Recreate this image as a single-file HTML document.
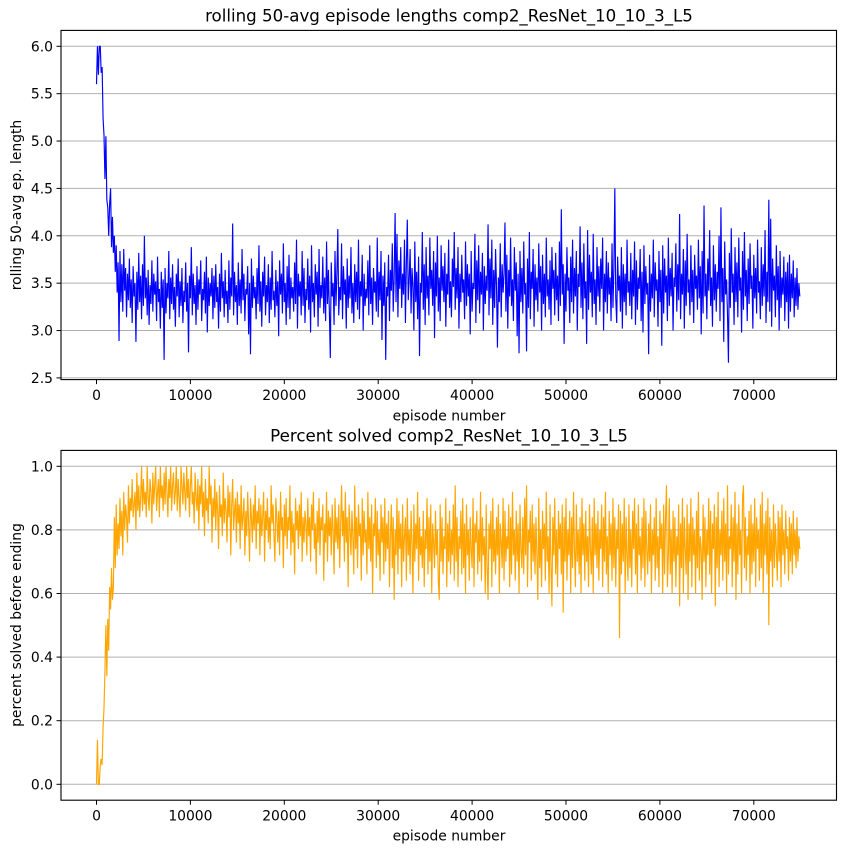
<!DOCTYPE html>
<html>
<head>
<meta charset="utf-8">
<title>comp2_ResNet_10_10_3_L5 training curves</title>
<style>
html,body{margin:0;padding:0;background:#fff;width:846px;height:853px;overflow:hidden}
svg{display:block;font-family:"DejaVu Sans","Liberation Sans",sans-serif;fill:#000}
</style>
</head>
<body>
<svg id="chart" xmlns="http://www.w3.org/2000/svg" width="846" height="853" viewBox="0 0 846 853">
<text x="449" y="21.5" font-size="16.67" text-anchor="middle">rolling 50-avg episode lengths comp2_ResNet_10_10_3_L5</text>
<text x="449" y="420.5" font-size="13.89" text-anchor="middle">episode number</text>
<text transform="translate(21,205) rotate(-90)" font-size="13.89" text-anchor="middle">rolling 50-avg ep. length</text>
<text x="449" y="441.5" font-size="16.67" text-anchor="middle">Percent solved comp2_ResNet_10_10_3_L5</text>
<text x="449" y="840.5" font-size="13.89" text-anchor="middle">episode number</text>
<text transform="translate(21,625) rotate(-90)" font-size="13.89" text-anchor="middle">percent solved before ending</text>
</svg>
<script>
const episodeStep = 100;
const xTickLabels = [0, 10000, 20000, 30000, 40000, 50000, 60000, 70000];
const lengthTickLabels = [2.5, 3.0, 3.5, 4.0, 4.5, 5.0, 5.5, 6.0];
const solvedTickLabels = [0.0, 0.2, 0.4, 0.6, 0.8, 1.0];
const episodeLengths = [
5.6,6.0,5.7,6.0,6.0,5.72,5.78,5.24,5.06,4.6,5.05,4.38,4.3,4.0,4.34,4.5,3.88,4.2,3.82,4.0,3.62,3.9,3.4,3.72,2.89,
3.84,3.3,3.7,3.2,3.86,3.42,3.66,3.14,3.6,3.32,3.76,3.24,3.54,3.08,3.68,3.36,3.5,2.88,3.62,3.22,3.82,3.3,3.58,3.12,3.7,
3.26,4.0,3.34,3.56,3.16,3.64,3.06,3.48,3.28,3.74,3.2,3.6,3.38,3.52,3.1,3.78,3.3,3.44,3.02,3.62,3.24,3.54,2.69,3.66,3.18,
3.5,3.34,3.84,3.12,3.56,3.28,3.7,3.22,3.46,3.04,3.6,3.36,3.76,3.14,3.52,3.26,3.66,3.08,3.42,3.3,3.72,3.2,3.5,2.77,3.58,
3.34,3.88,3.16,3.6,3.28,3.48,3.06,3.68,3.22,3.54,3.38,3.74,3.1,3.44,3.32,3.62,3.18,3.78,2.98,3.56,3.26,3.5,3.36,3.66,3.12,
3.58,3.24,3.7,3.3,3.46,3.02,3.6,3.2,3.82,3.34,3.52,3.14,3.64,3.28,3.42,3.08,3.74,3.22,3.56,3.36,4.13,3.16,3.62,3.3,3.48,
3.06,3.72,3.26,3.54,3.18,3.86,3.32,3.6,3.1,3.44,3.38,3.68,2.96,3.5,2.75,3.76,3.24,3.58,3.34,3.46,3.12,3.66,3.28,3.9,3.2,
3.52,3.04,3.62,3.36,3.78,3.16,3.48,3.3,3.7,3.08,3.56,3.22,3.84,3.32,3.42,3.14,3.64,3.26,3.52,2.94,3.74,3.38,3.6,3.18,3.92,
3.3,3.5,3.06,3.68,3.24,3.8,3.12,3.56,3.34,3.46,3.2,3.72,3.28,3.96,3.02,3.6,3.36,3.52,3.16,3.84,3.26,3.66,3.08,3.44,3.32,
3.76,3.22,3.58,2.98,3.9,3.3,3.5,3.14,3.7,3.38,3.62,3.04,3.86,3.24,3.48,3.34,3.78,3.18,3.56,3.1,3.94,3.28,3.64,3.2,2.71,
3.72,3.36,3.5,3.06,3.84,3.26,3.6,4.07,3.16,3.46,3.32,3.92,3.12,3.68,3.38,3.54,3.02,3.76,3.24,3.58,3.34,3.88,3.18,3.5,3.08,
3.7,3.3,3.62,3.22,3.96,3.12,3.52,3.36,3.8,3.0,3.6,3.26,3.44,3.34,3.74,3.16,3.9,3.28,3.56,3.06,3.66,3.4,3.52,3.2,3.98,
3.14,3.62,3.32,3.84,2.9,3.58,3.26,3.72,2.69,3.46,3.36,3.8,3.1,3.64,3.42,3.92,3.2,3.56,4.24,3.3,4.02,3.14,3.74,3.44,3.88,
3.24,3.6,3.38,3.96,3.08,3.7,4.17,3.32,3.54,3.86,3.18,3.66,3.46,3.0,3.94,3.3,3.62,3.12,3.78,2.73,3.5,3.4,4.04,3.22,3.7,
3.06,3.88,3.34,3.58,3.16,3.98,3.44,3.64,3.26,3.84,2.92,3.72,3.36,4.0,3.2,3.56,3.1,3.9,3.42,3.68,3.3,3.82,3.04,3.6,3.38,
3.96,3.24,3.52,3.14,3.76,3.46,4.04,3.22,3.66,3.34,3.88,3.02,3.6,3.3,3.8,3.4,3.54,3.12,3.94,3.26,3.7,3.36,3.6,2.96,3.84,
3.2,3.5,3.44,4.02,3.08,3.74,3.32,3.9,3.18,3.62,3.38,3.82,3.0,3.68,3.28,3.58,3.42,4.12,3.16,3.76,3.34,3.96,3.06,3.64,3.24,
3.86,3.46,2.82,3.56,3.3,3.92,3.14,3.7,3.4,3.6,4.14,3.2,3.8,3.02,3.64,3.36,3.98,3.26,3.54,3.1,3.88,3.42,3.72,2.94,3.6,
2.76,3.84,3.3,3.66,3.18,3.94,3.38,3.5,2.78,3.76,3.24,4.04,3.12,3.62,3.44,3.86,3.04,3.7,3.32,3.56,3.2,3.92,3.4,3.68,3.0,
3.8,3.28,3.6,3.14,3.98,3.36,3.54,3.22,3.74,3.06,3.88,3.44,3.64,3.16,3.82,3.32,3.58,3.1,3.94,3.26,4.28,3.38,3.7,2.86,3.6,
3.2,3.88,3.42,3.56,3.08,3.78,3.3,3.96,3.18,3.66,3.36,3.84,3.0,3.6,3.46,4.1,3.24,3.72,3.12,3.92,3.34,3.52,2.86,4.06,3.22,
3.8,3.4,3.62,3.14,4.02,3.28,3.54,3.06,3.88,3.36,3.68,3.2,3.76,3.44,3.98,3.0,3.6,3.3,3.84,3.18,3.72,3.38,3.56,3.1,3.92,
3.24,3.66,4.5,3.34,3.08,3.78,3.42,3.58,3.2,3.88,3.02,3.7,3.3,3.6,3.16,3.96,3.4,3.52,3.26,3.82,3.12,3.64,3.36,3.94,3.06,
3.74,3.22,3.56,3.44,3.86,3.1,3.62,2.98,3.9,3.28,3.68,3.38,3.5,2.75,3.8,3.2,3.6,3.34,3.96,3.14,3.72,3.42,3.54,3.04,3.84,
3.3,3.64,2.84,3.9,3.18,3.76,3.4,3.58,3.1,3.98,3.26,3.66,3.36,3.82,3.0,3.56,3.46,3.92,3.2,3.7,3.32,4.23,3.12,3.6,3.38,
3.86,3.02,3.74,3.26,4.02,3.4,3.54,3.16,3.9,3.3,3.64,3.08,3.8,3.44,3.58,3.22,3.96,3.34,3.68,2.96,3.84,3.18,4.32,3.36,3.6,
3.12,3.76,3.42,4.06,3.26,3.56,3.04,3.9,3.32,3.7,3.2,3.62,3.44,4.0,3.1,4.3,3.3,3.66,2.88,3.94,3.38,3.54,3.16,2.66,3.82,
3.24,4.08,3.4,3.6,3.06,3.88,3.3,3.72,3.14,3.98,3.42,3.56,2.98,3.84,3.22,4.04,3.36,3.64,3.1,3.76,3.28,3.92,3.44,3.58,3.02,
3.8,3.34,3.66,3.18,3.96,3.4,3.52,3.12,3.88,3.26,3.7,3.36,4.06,3.08,3.62,3.3,4.38,3.2,4.18,3.04,3.76,3.42,3.58,3.14,3.9,
3.32,3.68,3.0,3.84,3.24,3.56,3.38,3.78,3.1,3.62,3.3,3.72,3.02,3.8,3.2,3.6,3.34,3.74,3.14,3.56,3.26,3.66,3.22,3.5,3.36
];
const percentSolved = [
0,.14,0,0,.06,.08,.06,.18,.24,.36,.5,.34,.52,.42,.62,.55,.68,.58,.62,.84,.68,.88,.72,.82,.74,
.9,.78,.86,.72,.92,.8,.88,.84,.76,.94,.82,.9,.86,.96,.84,.88,.92,.8,.98,.86,.94,.84,.9,1.0,.86,
.96,.88,.92,.84,1.0,.9,.86,.96,.92,.82,.98,.88,.94,1.0,.86,.92,.96,.84,1.0,.9,.94,.86,.98,.88,1.0,
.92,.84,.96,.9,1.0,.86,.94,.98,.88,.92,1.0,.86,.96,.9,.84,1.0,.94,.88,.98,.92,.86,1.0,.9,.96,.84,
.94,1.0,.88,.92,.82,.98,.9,.86,.96,.8,.94,.88,1.0,.84,.92,.78,.96,.86,.9,.82,1.0,.88,.94,.76,.9,
.84,.96,.8,.92,.86,.74,.94,.84,.88,.78,.98,.82,.9,.86,.76,.94,.84,.92,.72,.88,.96,.8,.86,.9,.76,
.92,.82,.88,.74,.94,.8,.84,.9,.72,.86,.78,.92,.82,.7,.9,.84,.76,.88,.8,.94,.74,.86,.82,.9,.72,
.88,.78,.84,.92,.7,.86,.8,.9,.76,.84,.74,.94,.82,.88,.78,.7,.9,.84,.76,.86,.72,.92,.8,.84,.68,
.88,.78,.9,.74,.84,.8,.94,.72,.86,.76,.82,.66,.9,.8,.86,.74,.88,.78,.92,.7,.84,.76,.86,.82,.72,
.9,.78,.84,.7,.88,.8,.92,.74,.82,.66,.86,.76,.9,.72,.84,.8,.88,.64,.82,.76,.92,.7,.86,.78,.84,
.72,.88,.8,.66,.9,.76,.84,.74,.88,.68,.82,.94,.78,.86,.7,.92,.76,.84,.62,.88,.8,.72,.86,.78,.66,
.94,.74,.84,.68,.88,.78,.82,.64,.9,.72,.86,.76,.8,.66,.92,.74,.84,.7,.88,.6,.82,.78,.9,.68,.86,
.72,.8,.64,.88,.76,.84,.66,.9,.7,.82,.74,.86,.62,.78,.88,.68,.84,.58,.8,.72,.9,.66,.86,.74,.82,
.62,.88,.7,.78,.84,.64,.9,.72,.8,.66,.86,.76,.6,.88,.7,.82,.74,.92,.64,.84,.72,.78,.68,.86,.62,
.8,.74,.9,.66,.84,.7,.88,.6,.82,.76,.68,.86,.72,.8,.64,.58,.88,.7,.84,.66,.78,.74,.9,.62,.82,
.7,.86,.66,.8,.72,.88,.64,.94,.7,.84,.62,.78,.74,.86,.66,.9,.68,.82,.6,.88,.72,.8,.64,.84,.74,
.68,.9,.62,.82,.76,.86,.66,.8,.7,.92,.64,.84,.72,.78,.6,.88,.68,.58,.82,.74,.86,.62,.9,.7,.8,
.66,.84,.72,.88,.6,.82,.76,.68,.9,.64,.86,.7,.78,.74,.88,.62,.84,.66,.92,.72,.8,.64,.86,.7,.82,
.6,.88,.74,.68,.84,.66,.9,.72,.94,.62,.8,.76,.86,.64,.88,.7,.82,.66,.84,.72,.58,.9,.68,.8,.62,
.86,.74,.82,.64,.92,.7,.78,.6,.88,.68,.56,.84,.72,.9,.66,.8,.62,.86,.74,.82,.66,.88,.54,.84,.7,
.9,.64,.8,.72,.86,.6,.84,.68,.92,.74,.62,.88,.7,.8,.66,.84,.6,.9,.72,.82,.64,.86,.7,.78,.62,
.88,.74,.66,.84,.6,.9,.72,.82,.68,.86,.64,.8,.74,.88,.62,.84,.7,.92,.66,.78,.6,.86,.72,.82,.64,
.9,.68,.84,.62,.8,.74,.88,.46,.86,.66,.82,.7,.9,.6,.84,.72,.64,.88,.68,.8,.62,.86,.74,.9,.66,
.82,.6,.88,.72,.78,.64,.84,.68,.9,.62,.86,.74,.66,.82,.7,.88,.6,.8,.72,.84,.64,.9,.68,.78,.62,
.86,.74,.82,.6,.88,.66,.84,.94,.62,.72,.9,.66,.8,.6,.86,.7,.84,.62,.78,.72,.88,.56,.82,.68,.9,
.6,.84,.74,.66,.88,.58,.82,.7,.9,.62,.84,.72,.8,.6,.86,.68,.92,.64,.78,.74,.58,.88,.7,.84,.62,
.8,.72,.9,.66,.86,.6,.82,.74,.88,.56,.84,.68,.92,.62,.8,.72,.86,.64,.9,.7,.82,.6,.94,.66,.78,
.74,.88,.62,.84,.7,.92,.58,.82,.66,.88,.72,.8,.6,.9,.94,.68,.84,.64,.78,.72,.86,.6,.88,.66,.82,
.7,.9,.62,.84,.74,.8,.64,.88,.68,.92,.6,.82,.72,.86,.66,.9,.5,.84,.7,.8,.62,.88,.68,.82,.74,
.64,.86,.7,.84,.62,.88,.72,.8,.66,.86,.74,.78,.64,.84,.7,.82,.66,.86,.72,.8,.68,.84,.7,.78,.74
];

const svg = document.getElementById('chart');
const NS = 'http://www.w3.org/2000/svg';
const plotLeft = 61, plotRight = 836.5;
function xScale(ep) { return 96.5 + ep * 0.00939; }
function yLength(v) { return 46.3 + (6 - v) * 94.75; }
function ySolved(v) { return 784.3 - v * 318; }

function drawPanel(prefix, top, bottom, yScale, yTicks, yDigits, values, color) {
  yTicks.forEach(function (tick) {
    const y = yScale(tick);
    const grid = document.createElementNS(NS, 'line');
    
    
    grid.setAttribute('x1', plotLeft);
    grid.setAttribute('x2', plotRight);
    grid.setAttribute('y1', y);
    grid.setAttribute('y2', y);
    grid.setAttribute('stroke', '#b0b0b0');
    grid.setAttribute('stroke-width', '1');
    svg.appendChild(grid);
    const mark = document.createElementNS(NS, 'line');
    
    
    mark.setAttribute('x1', plotLeft - 4.5);
    mark.setAttribute('x2', plotLeft);
    mark.setAttribute('y1', y);
    mark.setAttribute('y2', y);
    mark.setAttribute('stroke', '#000');
    mark.setAttribute('stroke-width', '1');
    svg.appendChild(mark);
    const label = document.createElementNS(NS, 'text');
    
    
    label.setAttribute('x', plotLeft - 8);
    label.setAttribute('y', y + 5);
    label.setAttribute('font-size', '13.89');
    label.setAttribute('text-anchor', 'end');
    label.textContent = tick.toFixed(yDigits);
    svg.appendChild(label);
  });
  xTickLabels.forEach(function (tick) {
    const x = xScale(tick);
    const mark = document.createElementNS(NS, 'line');
    
    
    mark.setAttribute('x1', x);
    mark.setAttribute('x2', x);
    mark.setAttribute('y1', bottom);
    mark.setAttribute('y2', bottom + 4.5);
    mark.setAttribute('stroke', '#000');
    mark.setAttribute('stroke-width', '1');
    svg.appendChild(mark);
    const label = document.createElementNS(NS, 'text');
    
    
    label.setAttribute('x', x);
    label.setAttribute('y', bottom + 20.5);
    label.setAttribute('font-size', '13.89');
    label.setAttribute('text-anchor', 'middle');
    label.textContent = String(tick);
    svg.appendChild(label);
  });
  const line = document.createElementNS(NS, 'polyline');
  
  
  line.setAttribute('fill', 'none');
  line.setAttribute('stroke', color);
  line.setAttribute('stroke-width', '1.15');
  line.setAttribute('stroke-linejoin', 'miter');
  line.setAttribute('points', values.map(function (v, i) {
    return xScale(i * episodeStep).toFixed(2) + ',' + yScale(v).toFixed(2);
  }).join(' '));
  svg.appendChild(line);
  const frame = document.createElementNS(NS, 'rect');
  
  
  frame.setAttribute('x', plotLeft);
  frame.setAttribute('y', top);
  frame.setAttribute('width', plotRight - plotLeft);
  frame.setAttribute('height', bottom - top);
  frame.setAttribute('fill', 'none');
  frame.setAttribute('stroke', '#000');
  frame.setAttribute('stroke-width', '1.1');
  svg.appendChild(frame);
}

drawPanel('length', 30.4, 379.6, yLength, lengthTickLabels, 1, episodeLengths, '#0000ff');
drawPanel('solved', 450.4, 800.2, ySolved, solvedTickLabels, 1, percentSolved, '#ffa500');
</script>
</body>
</html>
